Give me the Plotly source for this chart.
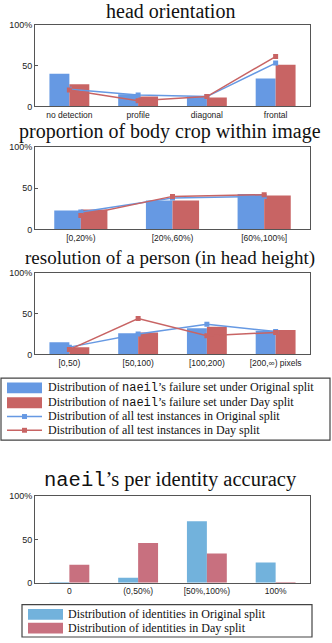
import plotly.graph_objects as go

W, H = 332, 643

# ---- data ----
head_cats = ["no detection", "profile", "diagonal", "frontal"]
head_fail_orig = [40, 15, 12, 34]
head_fail_day = [27, 12, 11, 51]
head_all_orig = [21, 14, 12, 53]
head_all_day = [20, 7, 12, 61]

crop_cats = ["[0,20%)", "[20%,60%)", "[60%,100%]"]
crop_fail_orig = [23, 35, 43]
crop_fail_day = [24, 35, 41]
crop_all_orig = [21, 38, 40]
crop_all_day = [17, 40, 42]

res_cats = ["[0,50)", "[50,100)", "[100,200)", "[200,∞) pixels"]
res_fail_orig = [15, 26, 32, 29]
res_fail_day = [9, 27, 34, 30]
res_all_orig = [9, 25, 37, 28]
res_all_day = [6, 44, 23, 27]

acc_cats = ["0", "(0,50%)", "[50%,100%)", "100%"]
acc_orig = [0.3, 6, 71, 23.5]
acc_day = [21, 46, 34, 0.5]

BLUE = "#6699e3"
RED = "#c86464"
BLUE2 = "#72b2dc"
RED2 = "#c8707f"
SERIF = "Liberation Serif"
MONO = "Liberation Mono"


def px_x(x):
    return x / W


def px_y(y):
    return 1 - y / H


fig = go.Figure()

panels = [
    (head_cats, head_fail_orig, head_fail_day, head_all_orig, head_all_day, 20, 103),
    (crop_cats, crop_fail_orig, crop_fail_day, crop_all_orig, crop_all_day, 144, 228),
    (res_cats, res_fail_orig, res_fail_day, res_all_orig, res_all_day, 272, 355),
    (acc_cats, acc_orig, acc_day, None, None, 499, 587),
]

axis_style = dict(showline=True, linecolor="#555", linewidth=1, mirror=True,
                  showgrid=False, zeroline=False)

for i, (cats, b1, b2, l1, l2, top, bottom) in enumerate(panels):
    n = "" if i == 0 else str(i + 1)
    xa, ya = "x" + n, "y" + n
    c1, c2 = (BLUE2, RED2) if l1 is None else (BLUE, RED)
    fig.add_trace(go.Bar(x=cats, y=b1, marker_color=c1, marker_line_width=0,
                         xaxis=xa, yaxis=ya, offsetgroup="a", showlegend=False))
    fig.add_trace(go.Bar(x=cats, y=b2, marker_color=c2, marker_line_width=0,
                         xaxis=xa, yaxis=ya, offsetgroup="b", showlegend=False))
    if l1 is not None:
        fig.add_trace(go.Scatter(x=cats, y=l1, mode="lines+markers",
                                 line=dict(color=BLUE, width=1.5),
                                 marker=dict(symbol="square", size=5, color=BLUE),
                                 xaxis=xa, yaxis=ya, showlegend=False))
        fig.add_trace(go.Scatter(x=cats, y=l2, mode="lines+markers",
                                 line=dict(color=RED, width=1.5),
                                 marker=dict(symbol="square", size=5, color=RED),
                                 xaxis=xa, yaxis=ya, showlegend=False))
    fig.layout["xaxis" + n] = dict(
        domain=[px_x(35), px_x(310)], anchor=ya, range=[-0.5, len(cats) - 0.5],
        tickfont=dict(family="Liberation Sans", size=8.5, color="#222"),
        ticks="", **axis_style)
    fig.layout["yaxis" + n] = dict(
        domain=[px_y(bottom), px_y(top)], anchor=xa, range=[0, 100],
        tickvals=[0, 50, 100], ticktext=["0", "50", "100%"],
        ticks="inside", ticklen=3, tickcolor="#555",
        tickfont=dict(family="Liberation Sans", size=9, color="#222"),
        **axis_style)

titles = [
    ("head orientation", 6, 20),
    ("proportion of body crop within image", 128, 20),
    ("resolution of a person (in head height)", 257, 19),
    ("<span style='font-family:" + MONO + "'>naeil</span>’s per identity accuracy", 483, 20.5),
]
for text, y, size in titles:
    fig.add_annotation(text=text, x=px_x(170), y=px_y(y), xref="paper", yref="paper",
                       xanchor="center", yanchor="middle", showarrow=False,
                       font=dict(family=SERIF, size=size, color="#111"))

# ---- legends ----
def legend_box(x0, x1, y0, y1):
    fig.add_shape(type="rect", xref="paper", yref="paper",
                  x0=px_x(x0), x1=px_x(x1), y0=px_y(y1), y1=px_y(y0),
                  line=dict(color="#444", width=1.2), fillcolor="white", layer="below")


def legend_text(text, x, y):
    fig.add_annotation(text=text, x=px_x(x), y=px_y(y), xref="paper", yref="paper",
                       xanchor="left", yanchor="middle", showarrow=False,
                       font=dict(family=SERIF, size=12, color="#111"))


def legend_bar(color, x0, x1, y):
    fig.add_shape(type="rect", xref="paper", yref="paper",
                  x0=px_x(x0), x1=px_x(x1), y0=px_y(y + 5.5), y1=px_y(y - 5.5),
                  line_width=0, fillcolor=color)


def legend_line(color, x0, x1, y):
    fig.add_shape(type="line", xref="paper", yref="paper",
                  x0=px_x(x0), x1=px_x(x1), y0=px_y(y), y1=px_y(y),
                  line=dict(color=color, width=1.5))
    xm = (x0 + x1) / 2
    fig.add_shape(type="rect", xref="paper", yref="paper",
                  x0=px_x(xm - 2.5), x1=px_x(xm + 2.5), y0=px_y(y + 2.5), y1=px_y(y - 2.5),
                  line_width=0, fillcolor=color)


nm = "<span style='font-family:" + MONO + "'>naeil</span>"
legend_box(1, 330, 379, 442)
legend_bar(BLUE, 7, 42, 389)
legend_bar(RED, 7, 42, 404)
legend_line(BLUE, 7, 42, 418)
legend_line(RED, 7, 42, 432)
legend_text("Distribution of " + nm + "’s failure set under Original split", 46, 389)
legend_text("Distribution of " + nm + "’s failure set under Day split", 46, 404)
legend_text("Distribution of all test instances in Original split", 46, 418)
legend_text("Distribution of all test instances in Day split", 46, 432)

legend_box(22, 312, 609, 642)
legend_bar(BLUE2, 28, 63, 619)
legend_bar(RED2, 28, 63, 633)
legend_text("Distribution of identities in Original split", 66, 619)
legend_text("Distribution of identities in Day split", 66, 633)

fig.update_layout(width=W, height=H, autosize=False,
                  margin=dict(l=0, r=0, t=0, b=0),
                  paper_bgcolor="white", plot_bgcolor="white",
                  barmode="group", bargap=0.42, bargroupgap=0,
                  modebar=dict(bgcolor="rgba(0,0,0,0)", color="rgba(0,0,0,0)",
                               activecolor="rgba(0,0,0,0)"))

# the page body has a default 8px margin; drop it so the figure sits at 0,0,
# and keep the hover toolbar out of the picture
fig.write_html("out.html",
               post_script="document.body.style.margin='0';document.body.style.overflow='hidden';"
                           "var s=document.createElement('style');"
                           "s.textContent='.modebar-container{display:none !important}';"
                           "document.head.appendChild(s);")
